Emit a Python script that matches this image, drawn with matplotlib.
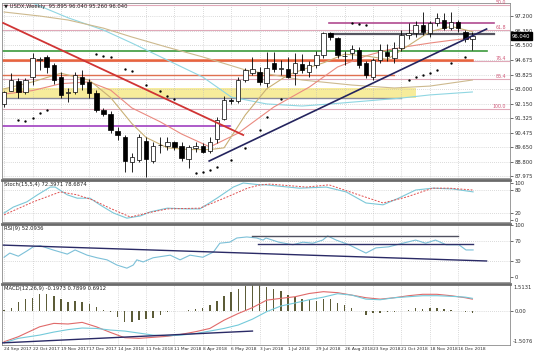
import matplotlib
matplotlib.use("Agg")
import matplotlib.pyplot as plt
import matplotlib.transforms as mtransforms
import numpy as np

# weekly candles, one per bar index
opens = [92.1, 92.9, 93.45, 92.8, 93.7, 94.65, 94.85, 94.4, 93.7, 92.74,
         92.8, 93.7, 93.4, 92.76, 91.78, 91.55, 90.57, 90.22, 88.8, 88.9,
         90.0, 88.84, 89.74, 89.7, 89.93, 89.7, 88.95, 89.6, 89.7, 89.42,
         90.1, 91.26, 92.35, 92.3, 93.5, 93.9, 93.97, 93.34, 94.5, 94.15,
         94.15, 93.9, 94.43, 93.97, 94.37, 94.95, 96.2, 95.93, 94.88, 95.07,
         95.24, 94.49, 93.68, 94.66, 95.13, 94.78, 95.36, 96.1, 96.2, 96.68,
         96.2, 96.8, 96.97, 96.5, 96.85, 96.28, 95.895]
highs = [92.9, 93.9, 93.6, 93.6, 95.07, 94.85, 94.95, 94.5, 93.97, 93.05,
         93.97, 94.1, 93.55, 92.93, 91.9, 91.7, 90.8, 90.34, 89.3, 90.4,
         90.22, 89.93, 90.22, 90.22, 90.0, 89.93, 89.75, 89.93, 89.88, 90.22,
         91.38, 92.59, 92.47, 93.68, 94.2, 94.84, 94.26, 95.1, 95.1, 94.66,
         94.84, 95.07, 95.0, 94.6, 95.2, 96.3, 96.3, 96.0, 95.2, 95.5,
         95.4, 94.6, 94.8, 95.6, 95.6, 95.7, 96.4, 96.8, 96.9, 97.43,
         96.9, 97.37, 97.37, 97.43, 96.97, 96.4, 96.3]
lows = [91.95, 92.85, 92.5, 92.7, 93.2, 94.1, 93.9, 93.3, 92.47, 92.24,
        92.7, 92.93, 92.5, 91.66, 91.45, 90.45, 90.05, 88.2, 88.2, 88.8,
        87.9, 88.7, 89.3, 89.45, 89.45, 88.84, 88.44, 89.36, 89.3, 89.3,
        89.9, 91.2, 92.1, 92.2, 93.4, 93.8, 93.2, 93.1, 94.0, 93.8,
        93.6, 93.2, 93.9, 93.7, 94.2, 94.8, 95.8, 94.8, 94.4, 94.7,
        94.2, 93.63, 93.5, 94.5, 94.6, 94.5, 95.2, 95.9, 96.0, 96.1,
        96.0, 96.6, 96.4, 96.4, 96.3, 95.7, 95.26]
closes = [92.82, 93.5, 92.8, 93.5, 94.76, 94.75, 94.26, 93.5, 92.65, 92.8,
          93.8, 93.3, 92.76, 91.78, 91.55, 90.63, 90.34, 88.84, 89.05, 90.22,
          88.96, 89.7, 89.78, 89.93, 89.65, 89.0, 89.65, 89.7, 89.36, 89.93,
          91.2, 92.36, 92.3, 93.5, 94.09, 94.15, 93.4, 94.2, 94.15, 94.18,
          93.68, 94.5, 94.09, 94.37, 94.95, 96.2, 95.99, 94.95, 94.92, 95.3,
          94.4, 93.8, 94.66, 95.24, 94.9, 95.36, 96.1, 96.2, 96.68, 96.28,
          96.8, 97.1, 96.5, 96.85, 96.5, 95.87, 96.04]

date_idx = [0, 4, 8, 12, 16, 20, 24, 28, 32, 36, 40, 44, 48, 52, 56, 60, 64]
date_labels = ["24 Sep 2017", "22 Oct 2017", "19 Nov 2017", "17 Dec 2017",
               "14 Jan 2018", "11 Feb 2018", "11 Mar 2018", "8 Apr 2018",
               "6 May 2018", "3 Jun 2018", "1 Jul 2018", "29 Jul 2018",
               "26 Aug 2018", "23 Sep 2018", "21 Oct 2018", "18 Nov 2018",
               "16 Dec 2018"]
price_ticks = [97.200, 96.350, 95.500, 94.675, 93.825, 93.000,
               92.150, 91.325, 90.475, 89.650, 88.800, 87.975]

# moving averages (bar index, price)
ma_fast_idx = [0, 4, 8, 12, 15, 18, 20, 23, 26, 29, 31, 34, 37, 40, 42, 45,
               48, 51, 54, 57, 60, 63, 66]
ma_fast_val = [93.0, 93.4, 93.9, 93.5, 92.5, 91.0, 90.2, 89.6, 89.5, 89.5,
               89.6, 91.5, 93.0, 93.8, 94.1, 94.5, 95.0, 94.9, 94.7, 95.5,
               96.3, 96.6, 96.3]
ma_mid_idx = [0, 4, 8, 12, 15, 18, 22, 25, 29, 33, 38, 43, 47, 51, 54, 57,
              60, 63, 66]
ma_mid_val = [92.7, 92.9, 93.3, 93.4, 92.93, 91.9, 91.1, 90.4, 89.65, 90.45,
              91.95, 93.1, 94.26, 94.9, 95.24, 95.45, 95.64, 95.8, 95.93]
ma_slow_idx = [0, 5, 9, 14, 18, 23, 28, 34, 42, 49, 55, 60, 66]
ma_slow_val = [97.43, 97.2, 96.97, 96.5, 95.99, 95.4, 94.84, 94.09, 93.51,
               93.22, 93.05, 93.16, 93.51]
ma_long_idx = [2, 4, 9, 14, 18, 23, 28, 32, 37, 42, 46, 51, 56, 60, 66]
ma_long_val = [98.3, 97.95, 97.1, 96.39, 95.64, 94.66, 93.68, 92.53, 92.13,
               92.01, 92.13, 92.3, 92.47, 92.65, 92.82]

# parabolic SAR dots
sar_idx = [2, 3, 4, 5, 6, 13, 14, 15, 17, 18, 20, 22, 23, 24, 27, 28, 29, 30,
           32, 34, 36, 37, 39, 49, 50, 51, 57, 58, 59, 60, 61, 63, 65]
sar_val = [91.2, 91.15, 91.3, 91.6, 91.8, 95.0, 94.9, 94.85, 94.15, 94.05,
           93.2, 92.85, 92.6, 92.4, 88.15, 88.2, 88.3, 88.5, 88.9, 89.6, 90.6,
           91.4, 92.4, 96.8, 96.75, 96.7, 93.5, 93.7, 93.8, 93.9, 94.1, 94.5,
           94.85]

# fibonacci levels
fib_prices = [97.83, 96.39, 94.60, 93.57, 91.84]
fib_labels = ["50.0", "61.8", "76.4", "85.4", "100.0"]

# horizontal objects: (start idx, end idx, price, colour, width)
hlines = [
    (-0.5, 68.0, 95.18, "#3c9a3c", 1.2),
    (-0.5, 66.0, 94.66, "#e8643c", 1.8),
    (-0.5, 54.9, 93.80, "#e07050", 1.0),
    (-0.5, 56.0, 92.47, "#8c8c9c", 1.0),
    (-0.5, 31.9, 90.86, "#a040c0", 1.2),
    (45.8, 69.0, 96.80, "#b04a90", 1.2),
    (45.8, 69.0, 96.16, "#555560", 1.6),
]
zone = (-0.5, 58.0, 92.47, 93.05)

# trendlines: (x0, y0, x1, y1)
red_trend = (-0.14, 96.8, 33.7, 90.34)
navy_trend = (28.9, 88.84, 68.0, 96.45)

# stochastic
stoch_idx = [0, 1.3, 3.2, 4.7, 6.5, 7.2, 8.9, 10.3, 12.1, 13.5, 15.4, 17.3,
             19.2, 20.6, 23.0, 25.8, 27.6, 30.0, 32.3, 33.7, 36.1, 36.9,
             41.6, 45.4, 48.2, 51.0, 53.4, 55.6, 58.0, 60.4, 63.2, 66.1]
stoch_main = [19, 35, 49, 68, 89, 89, 68, 59, 59, 41, 19, 5, 11, 22, 32, 30,
              30, 59, 89, 100, 95, 95, 86, 89, 76, 46, 41, 59, 81, 86, 84, 76]
sig_idx = [0, 4.1, 7.9, 10.3, 12.5, 14.9, 17.8, 20.2, 23.0, 27.6, 31.4,
           34.3, 36.1, 37.5, 42.6, 45.8, 49.2, 53.4, 56.7, 60.4, 62.7, 66.1]
stoch_sig = [14, 49, 76, 68, 54, 32, 8, 19, 30, 32, 62, 86, 95, 97, 89, 95,
             73, 46, 62, 86, 86, 81]

# RSI
rsi_idx = [0, 0.8, 2.0, 3.2, 4.1, 5.1, 6.9, 8.9, 10.0, 11.7, 13.1, 14.5,
           15.9, 17.3, 18.2, 18.7, 19.6, 21.0, 23.4, 24.8, 26.2, 28.0, 29.5,
           30.4, 31.8, 32.8, 34.2, 35.6, 36.5, 36.9, 38.7, 40.7, 42.1, 43.5,
           44.9, 45.6, 46.8, 48.6, 51.0, 52.4, 54.2, 56.2, 58.0, 59.4, 60.8,
           62.3, 64.1, 65.1, 66.1]
rsi_val = [38, 46, 40, 50, 58, 60, 52, 44, 52, 42, 37, 33, 23, 17, 23, 33,
           29, 37, 42, 33, 42, 38, 48, 65, 67, 75, 77, 75, 71, 75, 67, 62,
           67, 65, 71, 79, 71, 62, 46, 56, 58, 65, 71, 65, 71, 62, 62, 52, 52]
rsi_trend = (-0.56, 61.5, 68.0, 30.8)
rsi_upper = (34.9, 64.0, 79.0)
rsi_lower = (35.8, 66.1, 63.0)

# MACD
macd_hist = [0.05, 0.13, 0.43, 0.59, 0.66, 0.83, 0.83, 0.76, 0.59, 0.46,
             0.50, 0.46, 0.33, 0.21, 0.05, -0.07, -0.28, -0.53, -0.56, -0.45,
             -0.40, -0.33, -0.20, -0.03, 0.0, 0.02, 0.05, 0.10, 0.17, 0.30,
             0.50, 0.76, 0.96, 1.09, 1.25, 1.29, 1.29, 1.20, 1.09, 0.99,
             0.79, 0.71, 0.59, 0.54, 0.50, 0.59, 0.59, 0.38, 0.30, 0.17,
             0.0, -0.17, -0.12, -0.12, -0.07, -0.07, 0.0, 0.05, 0.13, 0.10,
             0.13, 0.17, 0.10, 0.07, 0.0, -0.07, -0.12]
macd_line_idx = [0, 2, 5, 7, 9, 11, 13, 15, 17, 19, 21, 23, 25, 27, 29, 31,
                 33, 35, 37, 39, 41, 43, 45, 47, 49, 51, 53, 55, 57, 59, 61,
                 63, 65, 66]
macd_red = [-1.52, -1.27, -0.78, -0.61, -0.64, -0.56, -0.78, -1.06, -1.32,
            -1.35, -1.30, -1.25, -1.15, -1.02, -0.86, -0.45, -0.12, 0.17,
            0.54, 0.63, 0.71, 0.87, 0.96, 0.91, 0.79, 0.66, 0.59, 0.66, 0.76,
            0.83, 0.83, 0.76, 0.66, 0.59]
macd_cyan = [-1.57, -1.35, -1.19, -1.04, -0.92, -0.84, -0.86, -0.94, -0.99,
             -1.09, -1.19, -1.22, -1.19, -1.11, -0.99, -0.86, -0.69, -0.40,
             -0.03, 0.25, 0.40, 0.56, 0.69, 0.86, 0.79, 0.59, 0.56, 0.66,
             0.71, 0.76, 0.76, 0.73, 0.69, 0.63]
macd_trend = (-0.56, -1.58, 35.0, -0.99)

W, H = 536, 358
XMIN, XMAX = -0.3, 71.3
FS = 3.8
GRID = dict(color="#b8b8b8", linestyle=(0, (1, 2)), linewidth=0.5)

fig = plt.figure(figsize=(W / 100, H / 100), dpi=100)
fig.patch.set_facecolor("white")


def panel(top, bottom, sep=True):
    a = fig.add_axes([2 / W, 1 - bottom / H, 508 / W, (bottom - top) / H])
    a.set_xlim(XMIN, XMAX)
    a.yaxis.tick_right()
    a.tick_params(axis="y", labelsize=FS, length=2, width=0.5, pad=1.5,
                  colors="#303030")
    a.tick_params(axis="x", length=0, labelbottom=False)
    a.set_xticks(date_idx)
    a.grid(True, axis="x", **GRID)
    for s in a.spines.values():
        s.set_color("#8a8a8a")
        s.set_linewidth(0.6)
    if sep:
        a.spines["top"].set_color("#6a6a6a")
        a.spines["top"].set_linewidth(2.0)
    return a


ax = panel(3, 178, sep=False)
ax_st = panel(180, 222)
ax_rsi = panel(224, 282)
ax_macd = panel(284, 345)

# ---- main price panel ----
ax.set_ylim(87.86, 97.95)
ax.set_yticks(price_ticks)
ax.set_yticklabels([f"{v:.3f}" for v in price_ticks])
ax.grid(True, axis="y", **GRID)

ax.fill_between([zone[0], zone[1]], zone[2], zone[3], color="#f6e98a",
                alpha=0.85, lw=0, zorder=1)
for p in fib_prices:
    ax.axhline(p, color="#e0a8b8", lw=0.8, zorder=1.5)
for p, lab in zip(fib_prices, fib_labels):
    ax.text(0.993, p, lab, transform=mtransforms.blended_transform_factory(
        ax.transAxes, ax.transData), ha="right", va="bottom", fontsize=3.4,
        color="#d05878")
for x0, x1, p, col, lw in hlines:
    ax.plot([x0, x1], [p, p], color=col, lw=lw, zorder=2)

ax.plot(ma_long_idx, ma_long_val, color="#8fd6e2", lw=0.8, zorder=2.2)
ax.plot(ma_slow_idx, ma_slow_val, color="#cdb98e", lw=0.8, zorder=2.2)
ax.plot(ma_mid_idx, ma_mid_val, color="#ea8a80", lw=0.8, zorder=2.3)
ax.plot(ma_fast_idx, ma_fast_val, color="#c9b075", lw=0.8, zorder=2.3)

idx = np.arange(len(opens))
o = np.array(opens)
c = np.array(closes)
ax.vlines(idx, lows, highs, color="black", lw=0.6, zorder=4)
body_bottom = np.minimum(o, c)
body_h = np.maximum(np.abs(c - o), 0.04)
cols = ["white" if cc >= oo else "black" for oo, cc in zip(opens, closes)]
ax.bar(idx, body_h, bottom=body_bottom, width=0.62, color=cols,
       edgecolor="black", linewidth=0.5, zorder=5)

ax.plot(sar_idx, sar_val, "o", ms=0.7, color="black", zorder=5)
ax.plot([red_trend[0], red_trend[2]], [red_trend[1], red_trend[3]],
        color="#d03434", lw=1.3, zorder=6)
ax.plot([navy_trend[0], navy_trend[2]], [navy_trend[1], navy_trend[3]],
        color="#24245e", lw=1.2, zorder=6)

ax.text(0.004, 0.992, "\u25bc USDX,Weekly  95.895 96.040 95.260 96.040",
        transform=ax.transAxes, ha="left", va="top", fontsize=FS,
        color="#202020", zorder=7)
ax.text(1.004, closes[-1], f"{closes[-1]:.3f}",
        transform=mtransforms.blended_transform_factory(ax.transAxes,
                                                          ax.transData),
        ha="left", va="center", fontsize=FS, color="white", clip_on=False,
        bbox=dict(boxstyle="square,pad=0.25", fc="black", ec="black"),
        zorder=8)

# ---- stochastic ----
ax_st.set_ylim(-5.4, 108.1)
ax_st.set_yticks([100, 80, 20, 0])
ax_st.set_yticklabels(["100", "80", "20", "0"])
for lv in (80, 20):
    ax_st.axhline(lv, **GRID)
ax_st.plot(stoch_idx, stoch_main, color="#7cc8d8", lw=0.8)
ax_st.plot(sig_idx, stoch_sig, color="#e05050", lw=0.7, ls=(0, (2, 1.5)))
ax_st.text(0.004, 0.95, "Stoch(15,5,4) 72.3971 78.6874",
           transform=ax_st.transAxes, ha="left", va="top", fontsize=FS,
           color="#202020")

# ---- RSI ----
ax_rsi.set_ylim(-9.6, 101.9)
ax_rsi.set_yticks([100, 70, 30, 0])
ax_rsi.set_yticklabels(["100", "70", "30", "0"])
for lv in (70, 30):
    ax_rsi.axhline(lv, **GRID)
ax_rsi.plot(rsi_idx, rsi_val, color="#7cc0d8", lw=0.8)
ax_rsi.plot([rsi_trend[0], rsi_trend[2]], [rsi_trend[1], rsi_trend[3]],
            color="#2a2a66", lw=1.0)
ax_rsi.plot([rsi_upper[0], rsi_upper[1]], [rsi_upper[2], rsi_upper[2]],
            color="#505060", lw=1.0)
ax_rsi.plot([rsi_lower[0], rsi_lower[1]], [rsi_lower[2], rsi_lower[2]],
            color="#303068", lw=1.0)
ax_rsi.text(0.004, 0.97, "RSI(9) 52.0936", transform=ax_rsi.transAxes,
            ha="left", va="top", fontsize=FS, color="#202020")

# ---- MACD ----
ax_macd.set_ylim(-1.68, 1.34)
ax_macd.set_yticks([0])
ax_macd.set_yticklabels(["0.00"])
ax_macd.axhline(0, **GRID)
ax_macd.text(1.006, 0.985, "1.5131", transform=ax_macd.transAxes,
             ha="left", va="top", fontsize=FS, color="#303030")
ax_macd.text(1.006, 0.02, "-1.5076", transform=ax_macd.transAxes,
             ha="left", va="bottom", fontsize=FS, color="#303030")
ax_macd.bar(np.arange(len(macd_hist)), macd_hist, width=0.2,
            color="#5c5c38", zorder=2)
ax_macd.plot(macd_line_idx, macd_red, color="#e06a6a", lw=0.8, zorder=3)
ax_macd.plot(macd_line_idx, macd_cyan, color="#74cada", lw=0.8, zorder=3)
ax_macd.plot([macd_trend[0], macd_trend[2]], [macd_trend[1], macd_trend[3]],
             color="#2a2a66", lw=1.0, zorder=4)
ax_macd.text(0.004, 0.97, "MACD(12,26,9) -0.1973 0.7899 0.6912",
             transform=ax_macd.transAxes, ha="left", va="top", fontsize=FS,
             color="#202020")

ax_macd.tick_params(axis="x", labelbottom=True, labelsize=3.2, pad=1.5,
                    colors="#303030")
ax_macd.set_xticklabels(date_labels, ha="left")

fig.savefig("out.png", dpi=100, facecolor="white")
